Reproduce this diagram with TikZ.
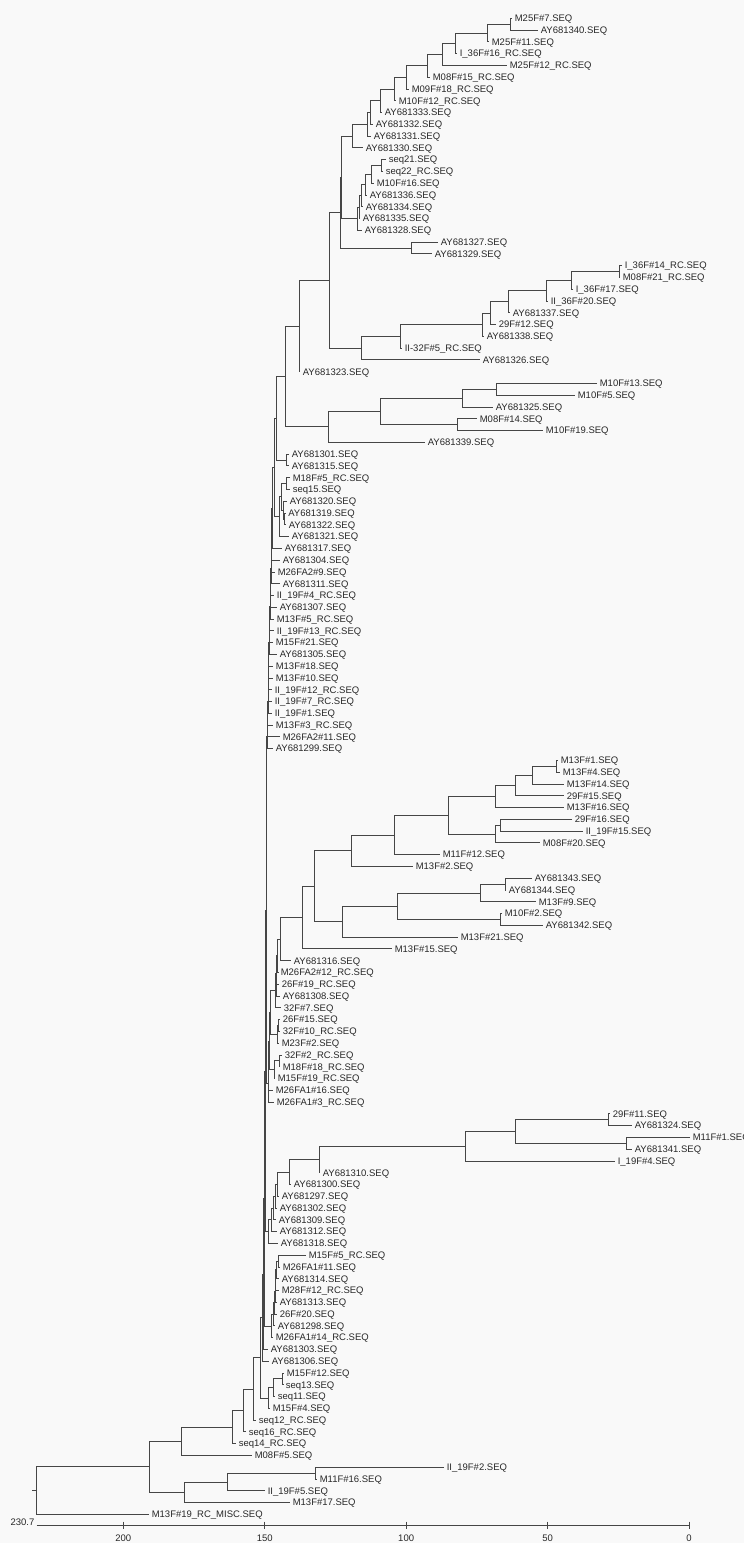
\documentclass[tikz,border=0pt]{standalone}
\usepackage{fontspec}
\setmainfont{Liberation Sans}
\usetikzlibrary{calc}
\definecolor{bgcol}{RGB}{249,249,249}
\definecolor{brcol}{RGB}{70,70,70}
\definecolor{txcol}{RGB}{40,40,40}
\newcommand{\labfont}{\fontsize{9.5}{11}\selectfont}
% a clade: name, x of the node, upper child, lower child
\newcommand{\clade}[4]{%
  \path let \p1=(#3), \p2=(#4) in (#2,{(\y1+\y2)/2}) coordinate (#1);
  \draw[branch] (#3) -- (#3 -| #1) -- (#4 -| #1) -- (#4);
}

\begin{document}
\begin{tikzpicture}[x=1pt,y=-1pt,
  branch/.style={draw=brcol,line width=0.9pt},
  leaf/.style={anchor=west,inner xsep=2.6pt,inner ysep=0pt,
    text height=6.6pt,text depth=0pt,font=\labfont,text=txcol},
  axislab/.style={inner sep=0pt,font=\labfont,text=txcol}]
\path[use as bounding box] (0,0) rectangle (744,1543);
\clip (0,0) rectangle (744,1543);
\fill[bgcol] (0,0) rectangle (744,1543);

% leaves: index / tip x / label
\foreach \i/\tx/\lab in {
  1/512/M25F\#7.SEQ, 2/538/AY681340.SEQ, 3/489/M25F\#11.SEQ,
  4/457/I\_36F\#16\_RC.SEQ, 5/507/M25F\#12\_RC.SEQ, 6/430/M08F\#15\_RC.SEQ,
  7/409/M09F\#18\_RC.SEQ, 8/396/M10F\#12\_RC.SEQ, 9/382/AY681333.SEQ,
  10/373/AY681332.SEQ, 11/371/AY681331.SEQ, 12/363/AY681330.SEQ,
  13/386/seq21.SEQ, 14/383/seq22\_RC.SEQ, 15/374/M10F\#16.SEQ,
  16/367/AY681336.SEQ, 17/363/AY681334.SEQ, 18/360/AY681335.SEQ,
  19/362/AY681328.SEQ, 20/438/AY681327.SEQ, 21/432/AY681329.SEQ,
  22/622/I\_36F\#14\_RC.SEQ, 23/620/M08F\#21\_RC.SEQ, 24/573/I\_36F\#17.SEQ,
  25/548/II\_36F\#20.SEQ, 26/510/AY681337.SEQ, 27/496/29F\#12.SEQ,
  28/484/AY681338.SEQ, 29/402/II-32F\#5\_RC.SEQ, 30/480/AY681326.SEQ,
  31/300/AY681323.SEQ, 32/597/M10F\#13.SEQ, 33/575/M10F\#5.SEQ,
  34/493/AY681325.SEQ, 35/477/M08F\#14.SEQ, 36/543/M10F\#19.SEQ,
  37/425/AY681339.SEQ, 38/289/AY681301.SEQ, 39/289/AY681315.SEQ,
  40/290/M18F\#5\_RC.SEQ, 41/290/seq15.SEQ, 42/287/AY681320.SEQ,
  43/285.5/AY681319.SEQ, 44/286/AY681322.SEQ, 45/289/AY681321.SEQ,
  46/282/AY681317.SEQ, 47/280/AY681304.SEQ, 48/275/M26FA2\#9.SEQ,
  49/280/AY681311.SEQ, 50/274/II\_19F\#4\_RC.SEQ, 51/277/AY681307.SEQ,
  52/274/M13F\#5\_RC.SEQ, 53/274/II\_19F\#13\_RC.SEQ, 54/273/M15F\#21.SEQ,
  55/277/AY681305.SEQ, 56/273/M13F\#18.SEQ, 57/273/M13F\#10.SEQ,
  58/272/II\_19F\#12\_RC.SEQ, 59/272/II\_19F\#7\_RC.SEQ, 60/272/II\_19F\#1.SEQ,
  61/273/M13F\#3\_RC.SEQ, 62/280/M26FA2\#11.SEQ, 63/273/AY681299.SEQ,
  64/558/M13F\#1.SEQ, 65/560/M13F\#4.SEQ, 66/564/M13F\#14.SEQ,
  67/564/29F\#15.SEQ, 68/564/M13F\#16.SEQ, 69/572/29F\#16.SEQ,
  70/583/II\_19F\#15.SEQ, 71/540/M08F\#20.SEQ, 72/440/M11F\#12.SEQ,
  73/413/M13F\#2.SEQ, 74/532/AY681343.SEQ, 75/506/AY681344.SEQ,
  76/536/M13F\#9.SEQ, 77/502/M10F\#2.SEQ, 78/543/AY681342.SEQ,
  79/458/M13F\#21.SEQ, 80/392/M13F\#15.SEQ, 81/291/AY681316.SEQ,
  82/278/M26FA2\#12\_RC.SEQ, 83/279/26F\#19\_RC.SEQ, 84/280/AY681308.SEQ,
  85/281/32F\#7.SEQ, 86/280/26F\#15.SEQ, 87/280/32F\#10\_RC.SEQ,
  88/279/M23F\#2.SEQ, 89/282/32F\#2\_RC.SEQ, 90/280/M18F\#18\_RC.SEQ,
  91/275/M15F\#19\_RC.SEQ, 92/273/M26FA1\#16.SEQ, 93/274/M26FA1\#3\_RC.SEQ,
  94/610/29F\#11.SEQ, 95/632/AY681324.SEQ, 96/690/M11F\#1.SEQ,
  97/632/AY681341.SEQ, 98/615/I\_19F\#4.SEQ, 99/320/AY681310.SEQ,
  100/291/AY681300.SEQ, 101/279/AY681297.SEQ, 102/277/AY681302.SEQ,
  103/276/AY681309.SEQ, 104/277/AY681312.SEQ, 105/278/AY681318.SEQ,
  106/306/M15F\#5\_RC.SEQ, 107/280/M26FA1\#11.SEQ, 108/279/AY681314.SEQ,
  109/279/M28F\#12\_RC.SEQ, 110/277/AY681313.SEQ, 111/277/26F\#20.SEQ,
  112/275/AY681298.SEQ, 113/273/M26FA1\#14\_RC.SEQ, 114/268/AY681303.SEQ,
  115/269/AY681306.SEQ, 116/284/M15F\#12.SEQ, 117/283/seq13.SEQ,
  118/275/seq11.SEQ, 119/270/M15F\#4.SEQ, 120/256/seq12\_RC.SEQ,
  121/246/seq16\_RC.SEQ, 122/236/seq14\_RC.SEQ, 123/252/M08F\#5.SEQ,
  124/444/II\_19F\#2.SEQ, 125/317/M11F\#16.SEQ, 126/265/II\_19F\#5.SEQ,
  127/290/M13F\#17.SEQ, 128/149/M13F\#19\_RC\_MISC.SEQ}{
  \pgfmathsetmacro{\yy}{18.3+(\i-1)*11.78}
  \coordinate (t\i) at (\tx,\yy);
  \node[leaf] (n\i) at (t\i) {\lab};
}

% clades: name / node x / children
\foreach \nm/\xx/\ca/\cb in {
  a1/510.7/t1/t2, a2/487.3/a1/t3, a3/455.7/a2/t4, a4/442.3/a3/t5,
  a5/427.7/a4/t6, a6/406.7/a5/t7, a7/394.3/a6/t8, a8/380/a7/t9,
  a9/370.7/a8/t10, a10/367.3/a9/t11, a11/352.3/a10/t12,
  b1/381/t13/t14, b2/371.7/b1/t15, b3/365/b2/t16, b4/361.7/b3/t17,
  b5/359/b4/t18, b6/357.3/b5/t19,
  a12/341.7/a11/b6, c1/411.7/t20/t21, a13/340/a12/c1,
  d1/619.3/t22/t23, d2/571/d1/t24, d3/546.7/d2/t25, d4/508.3/d3/t26,
  d5/490.7/d4/t27, d6/482.7/d5/t28, d7/400/d6/t29, d8/361.7/d7/t30,
  a14/329.3/a13/d8, a15/299.3/a14/t31,
  e1/496.7/t32/t33, e2/462.7/e1/t34, e3/457.3/t35/t36, e4/380/e2/e3,
  e5/328.3/e4/t37,
  a16/285/a15/e5, q1/286.7/t38/t39, top/276.7/a16/q1,
  m1/286.7/t40/t41, m2/284.5/t43/t44, m3/283.5/t42/m2, m4/281.7/m1/m3,
  m5/279.3/m4/t45,
  s1/274/top/m5, s2/272.7/s1/t46, s3/271.7/s2/t47, s4/271.3/s3/t48,
  s5/271/s4/t49, s6/270.7/s5/t50, s7/270.3/s6/t51, s8/270/s7/t52,
  s9/269.7/s8/t53, s10/269.3/s9/t54, s11/269/s10/t55, s12/268.8/s11/t56,
  s13/268.6/s12/t57, s14/268.4/s13/t58, s15/268.2/s14/t59,
  s16/268/s15/t60, s17/267.8/s16/t61, s18/267.6/s17/t62,
  s19/267.3/s18/t63,
  g1/556/t64/t65, g2/532.7/g1/t66, g3/515.7/g2/t67, g4/495/g3/t68,
  g5/500.7/t69/t70, g6/495/g5/t71, g7/448.3/g4/g6, g8/394/g7/t72,
  g9/351/g8/t73,
  h1/505/t74/t75, h2/480.7/h1/t76, h3/500.7/t77/t78, h4/397.7/h2/h3,
  h5/342.7/h4/t79,
  g10/314.3/g9/h5, g11/302.3/g10/t80, g12/280.7/g11/t81,
  k0/277.7/g12/t82, k1/276.7/t83/t84, k2/276/k0/k1, k3/275/k2/t85,
  k4/278.3/t86/t87, k5/277.7/k4/t88, k6/270.7/k3/k5, k7/279.3/t89/t90,
  k8/274/k7/t91, k9/269.3/k6/k8, k10/268.3/k9/t92, k11/268/k10/t93,
  s20/266.7/s19/k11,
  u1/608.3/t94/t95, u2/626.7/t96/t97, u3/515.7/u1/u2, u4/465/u3/t98,
  u5/319/u4/t99, u6/289.3/u5/t100, u7/277.3/u6/t101, u8/275/u7/t102,
  u9/273.3/u8/t103, u10/271.7/u9/t104, u11/268.3/u10/t105,
  s21/265/s20/u11,
  v1/278.3/t106/t107, v2/276.7/v1/t108, v3/275.7/v2/t109,
  v4/275/v3/t110, v5/274.3/v4/t111, v6/273/v5/t112, v7/271.7/v6/t113,
  s22/264.3/s21/v7, s23/263.3/s22/t114, s24/262/s23/t115,
  w1/282.7/t116/t117, w2/273/w1/t118, w3/268.2/w2/t119,
  z/260/s24/w3, p4/253.3/z/t120, p5/243.5/p4/t121, p6/232.6/p5/t122,
  p7/181.8/p6/t123,
  l1/315.6/t124/t125, l2/227.8/l1/t126, l3/184.1/l2/t127,
  bb/149.5/p7/l3, root/36.5/bb/t128}{
  \clade{\nm}{\xx}{\ca}{\cb}
}
\coordinate (rootstub) at ($(root)+(-4.5,0)$);
\draw[branch] (root) -- (rootstub);

% distance axis
\coordinate (ax0) at (36.5,1525.7);
\coordinate (ax1) at (689,1525.7);
\draw[branch] (ax0) -- (ax1);
\node[axislab,anchor=south east] (axmax) at (34.5,1526) {230.7};
\foreach \v in {200,150,100,50,0}{
  \coordinate (tk\v) at ({689-2.8284*\v},1525.7);
  \draw[branch] ($(tk\v)+(0,-4)$) -- ($(tk\v)+(0,3)$);
  \node[axislab,anchor=north] (tl\v) at ($(tk\v)+(0,9)$) {\v};
}
\end{tikzpicture}
\end{document}
